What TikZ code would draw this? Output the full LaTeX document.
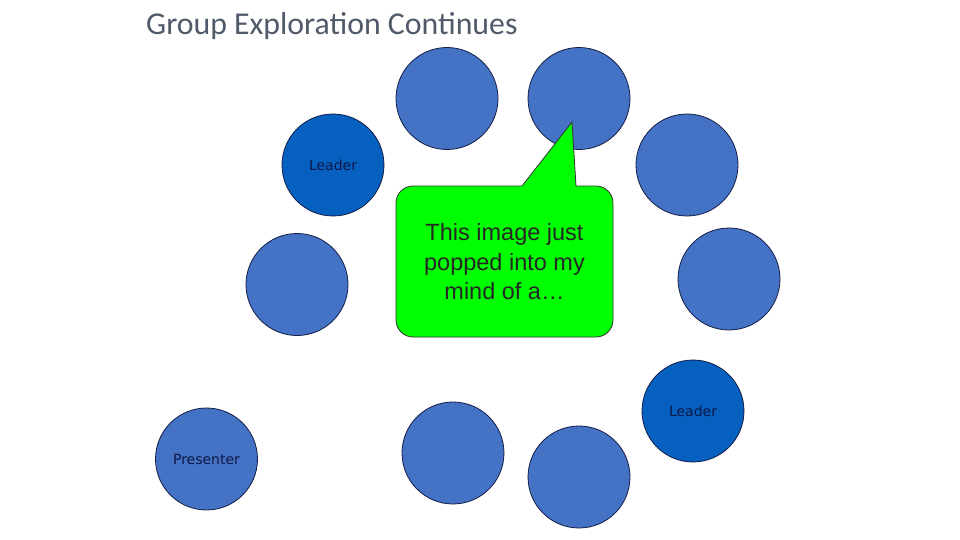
\documentclass[tikz,border=0pt]{standalone}
\usepackage{fontspec}
\setmainfont{Carlito}
\newfontfamily\labelfont{DejaVu Sans}
\newfontfamily\bubblefont{Liberation Sans}
\usetikzlibrary{positioning}
\definecolor{seatblue}{RGB}{68,114,196}
\definecolor{leadblue}{RGB}{6,96,192}
\definecolor{rimnavy}{RGB}{20,30,70}
\definecolor{inknavy}{RGB}{12,24,70}
\definecolor{titlegray}{RGB}{80,90,106}
\definecolor{popgreen}{RGB}{0,255,0}

\begin{document}
\begin{tikzpicture}[
    x=1pt,y=-1pt,
    seat/.style={circle,minimum size=102pt,inner sep=0pt,fill=seatblue,draw=rimnavy,line width=0.8pt,
      text=inknavy,font=\labelfont\fontsize{14}{16}\selectfont},
    leader/.style={seat,fill=leadblue},
    bubble/.style={fill=popgreen,draw=black!80,line width=0.8pt},
    bubbletext/.style={align=center,text=black!85,font=\bubblefont\fontsize{23.5}{29.5}\selectfont},
    heading/.style={anchor=base west,inner sep=0pt,text=titlegray,font=\fontsize{31.8}{36}\selectfont}
    ]
    \useasboundingbox (0,0) rectangle (960,540);
    \node (title) [heading] at (146,34.5) {Group Exploration Continues};
    \node (s1) [seat] at (447,98.5) {};
    \node (s2) [seat] at (579,98.5) {};
    \node (lead1) [leader] at (333,165) {Leader};
    \node (s3) [seat] at (687,165) {};
    \node (s4) [seat] at (297,284.5) {};
    \node (s5) [seat] at (729,279) {};
    \node (lead2) [leader] at (693,411) {Leader};
    \node (pres) [seat] at (206.5,459) {Presenter};
    \node (s6) [seat] at (453,453) {};
    \node (s7) [seat] at (579,477) {};
    \draw [bubble] (576,186) [rounded corners=17pt] -- (613,186) -- (613,337) -- (396,337) -- (396,186)
      [sharp corners] -- (522,186) -- (572,122) -- cycle;
    \node (idea) [bubbletext] at (504.5,262) {This image just\\popped into my\\mind of a\dots};
\end{tikzpicture}
\end{document}
